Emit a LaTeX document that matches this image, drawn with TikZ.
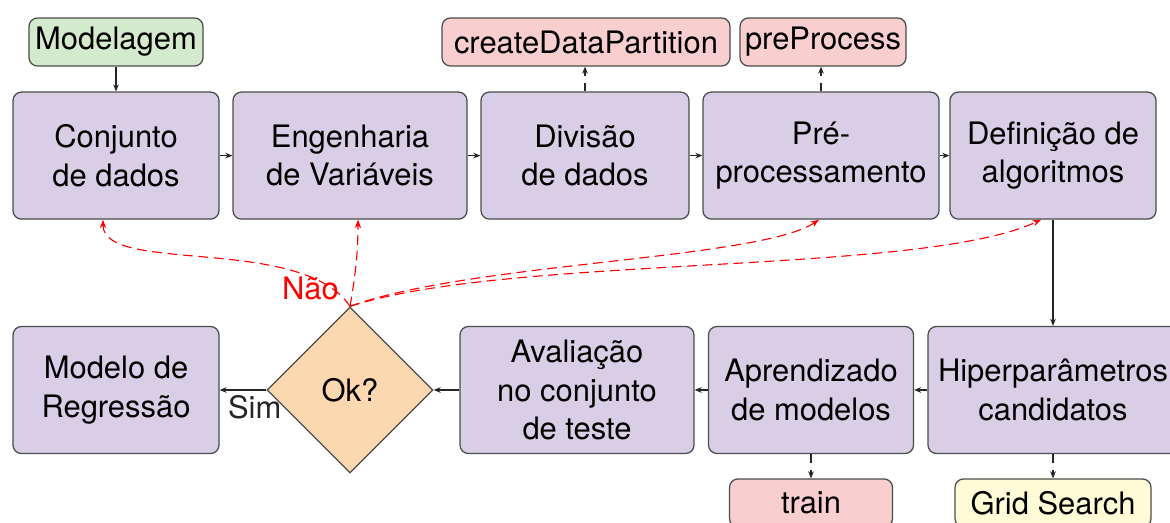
\documentclass[tikz,border=0pt]{standalone}
\usepackage{fontspec}
\setmainfont{TeX Gyre Heros}
\usetikzlibrary{shapes.geometric,arrows.meta}

\definecolor{stagecol}{RGB}{216,206,230}
\definecolor{modelcol}{RGB}{212,234,204}
\definecolor{fncol}{RGB}{249,206,206}
\definecolor{gridcol}{RGB}{255,251,215}
\definecolor{okcol}{RGB}{252,216,176}

\begin{document}
\begin{tikzpicture}[font=\fontsize{22}{27.5}\selectfont,
    stage/.style={draw=black!70, line width=0.9pt, rounded corners=6pt, fill=stagecol, align=center, minimum height=3.175cm, inner sep=0pt},
    tag/.style={draw=black!70, line width=0.9pt, rounded corners=6pt, minimum height=1.2cm, inner sep=0pt},
    flow/.style={-{Stealth[length=5pt,width=4pt]}, line width=0.8pt, black!85},
    call/.style={flow, dash pattern=on 6pt off 5pt},
    retry/.style={-{Stealth[length=6pt,width=4.5pt]}, red, line width=0.8pt, dash pattern=on 7pt off 4pt}]

    % Page frame
    \useasboundingbox (0,0) rectangle (29.25,13.05);
    \clip (0,0) rectangle (29.25,13.05);

    % Top row: data preparation
    \node[tag, fill=modelcol, minimum width=4.35cm] (modelagem) at (2.9,12.0) {Modelagem};
    \node[stage, minimum width=5.15cm] (conj) at (2.9,9.16) {Conjunto\\de dados};
    \node[stage, minimum width=5.85cm] (eng) at (8.75,9.16) {Engenharia\\de Variáveis};
    \node[stage, minimum width=5.2cm] (div) at (14.625,9.16) {Divisão\\de dados};
    \node[stage, minimum width=5.9cm] (pre) at (20.525,9.16) {Pré-\\processamento};
    \node[stage, minimum width=5.15cm] (alg) at (26.325,9.16) {Definição de\\algoritmos};

    % Functions used in the top row
    \node[tag, fill=fncol, minimum width=7.2cm] (cdp) at (14.65,12.0) {createDataPartition};
    \node[tag, fill=fncol, minimum width=4.15cm] (pp) at (20.575,12.0) {preProcess};

    % Bottom row: training and evaluation
    \node[stage, minimum width=5.15cm] (reg) at (2.9,3.3) {Modelo de\\Regressão};
    \node[diamond, draw=black!70, line width=0.9pt, fill=okcol, minimum size=4.15cm, inner sep=0pt] (ok) at (8.75,3.3) {Ok?};
    \node[stage, minimum width=5.85cm] (aval) at (14.425,3.3) {Avaliação\\no conjunto\\de teste};
    \node[stage, minimum width=5.125cm] (apr) at (20.275,3.3) {Aprendizado\\de modelos};
    \node[stage, minimum width=6.25cm] (hip) at (26.325,3.3) {Hiperparâmetros\\candidatos};

    % Functions used in the bottom row
    \node[tag, fill=fncol, minimum width=4.075cm] (train) at (20.275,0.475) {train};
    \node[tag, fill=gridcol, minimum width=4.9cm] (grid) at (26.325,0.475) {Grid Search};

    % Main flow
    \draw[flow] (modelagem) -- (conj);
    \draw[flow] (conj) -- (eng);
    \draw[flow] (eng) -- (div);
    \draw[flow] (div) -- (pre);
    \draw[flow] (pre) -- (alg);
    \draw[flow] (alg) -- (hip);
    \draw[flow] (hip) -- (apr);
    \draw[flow] (apr) -- (aval);
    \draw[flow] (aval) -- (ok);
    \draw[flow] (ok.west) -- (reg.east) node[pos=0.25, below] {Sim};

    % Calls to functions
    \draw[call] (div.north) -- (div.north |- cdp.south);
    \draw[call] (pre.north) -- (pre.north |- pp.south);
    \draw[call] (apr) -- (train);
    \draw[call] (hip) -- (grid);

    % Going back when the model is not ok
    \draw[retry] (ok.north) .. controls +(-1.2,1.8) and +(0,-1.375) .. ([xshift=-0.325cm]conj.south);
    \draw[retry] (ok.north) .. controls +(80:0.8) and +(0,-0.8) .. ([xshift=0.2cm]eng.south);
    \draw[retry] (ok.north) .. controls +(3,1.1) and +(-1.5,-1.0) .. ([xshift=-0.05cm]pre.south);
    \draw[retry] (ok.north) .. controls +(4,1.3) and +(-3,-1.4) .. ([xshift=-0.3cm]alg.south);
    \node[red, anchor=base east, inner sep=0pt] (nao) at ([xshift=-0.275cm, yshift=0.175cm]ok.north) {Não};

\end{tikzpicture}
\end{document}
